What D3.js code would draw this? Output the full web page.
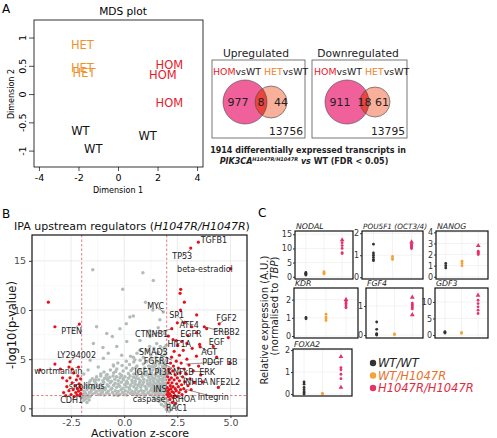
<!DOCTYPE html>
<html><head><meta charset="utf-8">
<script src="https://cdn.jsdelivr.net/npm/d3@7"></script>
<style>body{margin:0;background:#fff}svg{display:block}text{font-family:"DejaVu Sans",sans-serif}</style>
</head><body><svg id="c" width="497" height="438"></svg>
<script>
// ---------------- DATA ----------------
// Panel A: MDS
const mdsLabels = ["HET","HET","HET","HOM","HOM","HOM","WT","WT","WT"];
const mdsDim1 = [-1.8,-1.8,-1.72,2.6,2.27,2.6,-1.9,-1.25,1.5];
const mdsDim2 = [0.86,0.46,0.37,0.52,0.34,-0.15,-0.66,-0.98,-0.74];
const mdsXTicks = [-4,-2,0,2,4];
const mdsYTicks = [-1,-0.5,0,0.5,1];
// Venn
const vennTitles = ["Upregulated","Downregulated"];
const vennHomOnly = [977,911];
const vennBoth = [8,18];
const vennHetOnly = [44,61];
const vennNeither = [13756,13795];
// Panel B: volcano (activation z-score, -log10 p)
const grayPts = [
[-1.95,1.4],[-1.88,1.7],[-1.82,1.5],[-1.75,1.9],[-1.7,1.35],[-1.63,1.6],[-1.55,1.8],[-1.5,1.45],[-1.42,1.95],[-1.38,1.55],[-1.3,1.7],[-1.22,1.4],[-1.15,1.85],[-1.1,1.5],[-1.02,1.65],[-0.95,1.35],[-0.9,1.9],[-0.83,1.55],[-0.75,1.75],[-0.7,1.4],[-0.62,1.95],[-0.55,1.6],[-0.48,1.35],[-0.42,1.8],[-0.35,1.5],[-0.28,1.7],[-0.2,1.4],[-0.15,1.9],[-0.08,1.6],[0.0,1.45],[0.05,1.8],[0.12,1.35],[0.18,1.65],[0.25,1.95],[0.3,1.5],[0.37,1.75],[0.43,1.4],[0.5,1.6],[0.55,1.9],[0.62,1.45],[0.68,1.7],[0.75,1.35],[0.8,1.85],[0.87,1.55],[0.93,1.75],[1.0,1.4],[1.05,1.95],[1.12,1.6],[1.18,1.45],[1.23,1.8],[1.3,1.35],[1.35,1.65],[1.4,1.9],[1.45,1.5],[1.5,1.75],[1.55,1.4],[1.6,1.6],[1.65,1.85],[1.7,1.45],[1.75,1.7],[1.8,1.35],[1.85,1.95],[1.9,1.55],[1.95,1.8],[1.98,1.4],[1.92,1.65],[1.72,1.9],[1.58,1.3],[1.28,1.9],[0.95,1.3],[0.6,1.3],[-0.3,1.3],[-1.0,1.95],
[-1.9,2.1],[-1.8,2.4],[-1.72,2.2],[-1.65,2.6],[-1.57,2.05],[-1.48,2.35],[-1.4,2.15],[-1.33,2.55],[-1.25,2.3],[-1.18,2.0],[-1.1,2.45],[-1.03,2.2],[-0.96,2.65],[-0.88,2.1],[-0.8,2.4],[-0.73,2.25],[-0.66,2.6],[-0.58,2.05],[-0.5,2.35],[-0.43,2.55],[-0.36,2.15],[-0.28,2.45],[-0.21,2.25],[-0.14,2.65],[-0.06,2.05],[0.02,2.4],[0.09,2.2],[0.16,2.55],[0.23,2.1],[0.3,2.35],[0.38,2.6],[0.45,2.2],[0.52,2.45],[0.58,2.05],[0.65,2.3],[0.72,2.6],[0.78,2.15],[0.85,2.4],[0.91,2.65],[0.98,2.25],[1.04,2.05],[1.1,2.5],[1.16,2.3],[1.22,2.6],[1.28,2.1],[1.34,2.4],[1.4,2.2],[1.46,2.55],[1.52,2.05],[1.58,2.35],[1.63,2.65],[1.68,2.15],[1.73,2.45],[1.78,2.25],[1.83,2.6],[1.87,2.05],[1.91,2.35],[1.95,2.55],[1.98,2.15],[1.85,2.3],[1.66,2.5],[1.44,2.0],[1.2,2.4],[0.7,2.45],[0.1,2.6],
[-1.6,2.8],[-1.5,3.0],[-1.4,2.75],[-1.3,3.2],[-1.2,2.9],[-1.1,3.3],[-1.0,2.8],[-0.92,3.05],[-0.84,3.35],[-0.76,2.85],[-0.68,3.15],[-0.6,2.75],[-0.52,3.3],[-0.44,2.95],[-0.36,3.2],[-0.28,2.8],[-0.2,3.1],[-0.12,3.35],[-0.04,2.9],[0.04,3.2],[0.12,2.75],[0.2,3.05],[0.28,3.3],[0.36,2.85],[0.44,3.15],[0.52,2.75],[0.6,3.35],[0.68,3.0],[0.76,2.8],[0.84,3.25],[0.92,2.95],[1.0,3.4],[1.08,2.8],[1.15,3.15],[1.22,2.9],[1.3,3.3],[1.37,2.75],[1.44,3.05],[1.5,3.35],[1.56,2.85],[1.62,3.2],[1.68,2.95],[1.74,3.35],[1.79,2.8],[1.84,3.1],[1.89,3.4],[1.93,2.9],[1.97,3.2],[1.8,3.0],[1.6,2.72],[1.35,3.05],[0.55,3.05],[-0.05,3.0],[-0.8,3.0],[-1.35,2.9],
[-1.1,3.5],[-0.95,3.7],[-0.8,3.45],[-0.65,3.9],[-0.5,3.6],[-0.35,4.0],[-0.2,3.5],[-0.05,3.8],[0.1,4.1],[0.2,3.55],[0.32,3.85],[0.45,3.5],[0.55,4.15],[0.65,3.7],[0.75,3.95],[0.85,3.5],[0.95,4.1],[1.05,3.75],[1.12,3.45],[1.2,4.0],[1.28,3.6],[1.35,3.9],[1.42,4.2],[1.5,3.55],[1.57,3.85],[1.63,4.1],[1.7,3.5],[1.76,3.8],[1.82,4.15],[1.87,3.6],[1.92,3.95],[1.96,3.45],[1.6,3.65],[1.0,3.6],[0.4,4.05],[-0.4,3.75],[1.45,3.45],[1.9,4.2],
[-0.5,4.3],[-0.3,4.6],[-0.1,4.35],[0.1,4.8],[0.25,4.45],[0.45,4.7],[0.6,4.3],[0.75,4.9],[0.9,4.5],[1.05,4.75],[1.15,4.3],[1.28,4.95],[1.38,4.55],[1.48,4.35],[1.55,4.8],[1.65,4.5],[1.72,4.95],[1.8,4.3],[1.86,4.7],[1.93,4.45],[1.98,4.9],[1.3,4.25],[0.5,4.95],
[0.3,5.3],[0.6,5.6],[0.9,5.2],[1.1,5.9],[1.25,5.4],[1.4,6.1],[1.5,5.2],[1.6,5.7],[1.7,6.3],[1.78,5.3],[1.85,5.9],[1.92,5.5],[1.97,6.4],[1.88,6.2],[1.2,6.3],[0.74,5.9],
[-1.48,14.1],[0.88,13.8],[1.37,13.0],[-0.07,12.1],[0.43,9.4],[1.68,9.0],[0.27,9.3],[-1.3,8.3],[-0.82,7.6],[-0.2,8.1],[1.2,7.9],[-1.45,6.6],[-0.35,6.3],[0.12,6.8],[0.74,6.9],[1.21,7.3],[1.53,6.6],[-0.75,5.6],[-0.12,5.4],[-0.98,5.1],[0.43,5.2],[-1.22,4.2],[-0.51,4.4],[-1.6,4.9],[-0.56,7.3],[1.84,9.8],[1.0,10.8],[0.1,8.6],[-1.0,6.2],[1.9,7.6],[1.6,8.2],[1.35,10.0],[-1.9,3.5],[-1.7,3.9],
[-1.95,1.1],[-1.9,0.8],[-1.85,1.2],[-1.8,0.95],[-1.75,0.6],[-1.7,1.15],[-1.65,0.85],[-1.6,1.2],[1.4,1.1],[1.5,0.9],[1.6,1.2],[1.65,0.7],[1.7,1.0],[1.75,0.4],[1.8,0.85],[1.85,1.15],[1.88,0.2],[1.92,0.6],[1.95,1.0],[1.98,-0.1],[2.0,0.4],[2.05,0.8],[2.08,0.1],[2.12,-0.3],[2.15,0.5],[2.18,1.1],[2.2,0.0]
];
const redPts = [
[3.49,16.9],[3.13,16.3],[5.01,14.2],[-3.57,10.8],[-3.26,8.3],[-2.11,8.57],[-3.96,3.92],[-3.26,4.5],[-2.55,4.74],
[-2.85,1.6],[-2.75,1.3],[-2.7,2.2],[-2.6,1.8],[-2.55,3.1],[-2.5,1.4],[-2.45,2.6],[-2.4,1.9],[-2.38,3.6],[-2.35,1.2],[-2.3,2.3],[-2.28,1.6],[-2.25,2.9],[-2.22,1.36],[-2.2,2.0],[-2.18,3.3],[-2.15,1.75],[-2.12,2.5],[-2.1,1.3],[-2.08,2.2],[-2.05,1.5],[-2.05,3.0],[-2.03,1.9],[-2.6,4.2],[-2.9,3.1],[-3.0,4.0],[-2.45,4.0],[-2.15,4.2],[-2.7,2.8],
[2.02,1.4],[2.03,2.1],[2.05,1.7],[2.05,3.2],[2.07,2.6],[2.08,1.2],[2.1,4.0],[2.1,1.9],[2.12,2.9],[2.13,1.5],[2.15,3.6],[2.15,0.9],[2.17,2.3],[2.18,4.6],[2.2,1.3],[2.2,2.0],[2.22,3.1],[2.23,5.2],[2.25,1.7],[2.25,2.6],[2.27,0.6],[2.28,3.8],[2.3,1.1],[2.3,2.2],[2.32,4.3],[2.33,1.6],[2.35,2.9],[2.35,5.8],[2.38,1.3],[2.4,3.4],[2.4,2.0],[2.42,0.5],[2.45,4.8],[2.45,1.8],[2.47,2.5],[2.5,3.1],[2.5,1.2],[2.52,6.4],[2.55,2.2],[2.55,4.1],[2.58,1.6],[2.6,2.8],[2.6,5.4],[2.63,3.6],[2.65,1.9],[2.68,4.6],[2.7,2.4],[2.72,1.4],[2.75,3.2],[2.78,5.9],[2.8,2.0],[2.82,4.0],[2.85,2.7],[2.9,1.7],[2.92,3.5],[2.95,5.0],[3.0,2.3],[3.05,4.4],[3.1,3.0],[3.15,1.9],[3.2,6.1],[3.25,3.8],[3.3,2.6],[3.4,5.3],[3.5,4.3],[3.6,3.4],[3.7,2.7],[3.55,6.5],
[2.3,7.0],[2.08,7.35],[2.45,6.9],[2.7,6.8],[2.95,6.6],[3.0,7.4],[2.24,8.1],[2.5,8.7],[2.83,8.7],[3.18,8.3],[3.4,7.7],[3.88,8.1],[2.65,10.0],[2.63,11.7],[2.83,10.8],[3.41,9.5],[3.77,8.3],[4.47,8.6],[4.9,7.2],[4.19,6.3],[3.57,6.26],[4.35,5.2],[4.98,4.6],[4.43,2.13],[2.66,12.1]
];
// annotation: [text, label z, label y, leader-to z, leader-to y]
const volcanoLabels = [
["TGFB1",4.22,17.15,null,null],["TP53",2.73,15.45,3.1,16.1],["beta-estradiol",3.8,14.15,null,null],
["MYC",1.48,10.4,1.84,9.8],["SP1",2.47,9.5,2.83,8.7],["ATF4",3.06,8.5,2.83,8.9],["FGF2",4.82,9.15,4.47,8.6],
["EGFR",3.14,7.5,null,null],["CTNNB1",1.29,7.5,2.24,8.1],["ERBB2",4.82,7.7,3.77,8.3],["EGF",4.35,6.7,null,null],
["HIF1A",2.59,6.5,null,null],["AGT",4.0,5.75,3.57,6.26],["SMAD3",1.37,5.75,2.25,4.9],["PDGF BB",4.5,4.7,2.9,4.5],
["FGFR1",1.53,4.84,2.25,4.1],["IGF1",0.9,3.72,null,null],["PI3K",1.84,3.72,null,null],["NFkB",2.78,3.72,null,null],
["ERK",3.9,3.72,3.3,3.75],["INHBA",3.36,2.7,2.6,3.3],["NFE2L2",4.74,2.7,4.43,2.13],["INS",1.68,1.93,null,null],
["Integrin",4.19,1.18,2.78,2.0],["caspase",1.17,0.95,null,null],["RHOA",2.81,0.95,2.5,1.4],["RAC1",2.47,0.0,2.3,1.0],
["PTEN",-2.47,7.8,-2.11,8.57],["LY294002",-2.24,5.42,-2.55,4.74],["wortmannin",-3.1,3.79,null,null],
["sirolimus",-1.76,2.27,null,null],["CDH1",-2.47,0.84,-2.22,1.36]
];
const volcanoXTicks = [-2.5,0,2.5,5];
const volcanoYTicks = [0,5,10,15];
const zThresholds = [-2,2];
const pThreshold = 1.3;
// Panel C: qPCR
const cGenes = ["NODAL","POU5F1 (OCT3/4)","NANOG","KDR","FGF4","GDF3","FOXA2"];
const genotypes = ["WT/WT","WT/H1047R","H1047R/H1047R"];
const cTicks = [[0,5,10,15],[0,1,2],[0,1,2,3,4],[0,1,2],[0,1],[0,5,10],[0,1,2]];
const cWT = [[1.5,1.2,1.0,0.8,0.6],[1.5,1.1,1.0,0.9,0.8,0.75],[1.2,1.0,0.8],[1.02,0.95],[0.45,0.2,0.05,0.02,0],[1.0,0.8,0.6],[0.55,0.45,0.3,0.2,0.1,0.05,0]];
const cHET = [[1.8,1.4,1.1,1.0],[0.95,0.85,0.8],[1.4,1.2,1.0],[1.2,1.05,0.95,0.85],[0.04,0.01],[0.8,0.5],[0.03,0]];
const cHOM = [[13,12,11,10,8.5,8.2],[1.6,1.5,1.45,1.4,1.35,1.3],[2.8,2.3,2.2,2.1,2.0],[2.0,1.9,1.8,1.7,1.6,1.55],[1.3,1.1,1.05,1.0,0.95,0.9,0.7],[12,10.5,9.5,8.5,7.5,6.5],[1.7,1.2,1.1,0.9,0.7,0.3]];
const cHOMtriangle = [[1,0,0,0,0,0],[1,0,0,0,0,0],[1,0,0,0,0],[1,0,0,0,0,0],[1,0,0,0,0,0,1],[1,0,0,0,0,0],[1,0,0,0,0,1]];

// ---------------- DRAW ----------------
const svg = d3.select("#c");
svg.append("rect").attr("width",497).attr("height",438).attr("fill","#fff");

function txt(g,x,y,s,opt={}){
  const t=g.append("text").attr("x",x).attr("y",y).text(s)
   .attr("font-size",opt.size||10).attr("fill",opt.fill||"#000")
   .attr("text-anchor",opt.anchor||"start");
  if(opt.weight) t.attr("font-weight",opt.weight);
  if(opt.italic) t.attr("font-style","italic");
  if(opt.family) t.attr("font-family",opt.family);
  if(opt.rotate!=null) t.attr("transform",`rotate(${opt.rotate},${x},${y})`);
  return t;
}
// panel letters
txt(svg,2,13,"A",{size:12});
txt(svg,2,218,"B",{size:12});
txt(svg,258,217,"C",{size:12});

// ---- Panel A MDS ----
(function(){
  const g=svg.append("g");
  const x=d3.scaleLinear().domain([-4.25,4.30]).range([34,203]);
  const y=d3.scaleLinear().domain([-1.29,1.31]).range([167,20]);
  g.append("rect").attr("x",34).attr("y",20).attr("width",169).attr("height",147).attr("fill","none").attr("stroke","#000").attr("stroke-width",0.8);
  const ax=g.append("g").attr("transform","translate(0,167)").call(d3.axisBottom(x).tickValues(mdsXTicks).tickSize(4).tickFormat(d=>String(d)));
  ax.select(".domain").remove();
  ax.selectAll("line").attr("stroke","#000").attr("stroke-width",0.7);
  ax.selectAll("text").attr("font-size",9.5).attr("font-family","DejaVu Sans").attr("fill","#000").attr("y",7);
  const ay=g.append("g").attr("transform","translate(34,0)").call(d3.axisLeft(y).tickValues(mdsYTicks).tickSize(5).tickFormat(d=>String(d)));
  ay.select(".domain").remove();
  ay.selectAll("line").attr("stroke","#000").attr("stroke-width",0.7);
  ay.selectAll("text").attr("font-size",9.5).attr("font-family","DejaVu Sans").attr("fill","#000")
    .attr("x",0).attr("dy","0.35em").attr("text-anchor","middle").attr("transform","translate(-11,0) rotate(-90)");
  txt(g,123,15,"MDS plot",{size:10.6,anchor:"middle"});
  txt(g,118,193,"Dimension 1",{size:8,anchor:"middle"});
  txt(g,14,94,"Dimension 2",{size:8,anchor:"middle",rotate:-90});
  const col={HET:"#f0912a",HOM:"#e8192c",WT:"#111"};
  mdsLabels.forEach((l,i)=>{
    txt(g,x(mdsDim1[i]),y(mdsDim2[i])+4,l,{size:11.5,anchor:"middle",fill:col[l]});
  });
})();

// ---- Venn ----
(function(){
  const boxes=[[212,60,93,78],[312,60,95,78]];
  const circ=[[[245,102,22],[271,102,16]],[[347,102,22],[375,102,15]]];
  const titleX=[256,358];
  const labStart=[[213,264],[314,365]];
  const numX=[[238,261,281],[340,364.5,382]];
  const defs=svg.append("defs");
  vennTitles.forEach((t,i)=>{
    const g=svg.append("g");
    txt(g,titleX[i],57,t,{size:10.7,anchor:"middle",fill:"#222"});
    const b=boxes[i];
    g.append("rect").attr("x",b[0]).attr("y",b[1]).attr("width",b[2]).attr("height",b[3]).attr("fill","none").attr("stroke","#555").attr("stroke-width",0.8);
    const [c1,c2]=circ[i];
    defs.append("clipPath").attr("id","vc"+i).append("circle").attr("cx",c1[0]).attr("cy",c1[1]).attr("r",c1[2]);
    g.append("circle").attr("cx",c1[0]).attr("cy",c1[1]).attr("r",c1[2]).attr("fill","#f0609a");
    g.append("circle").attr("cx",c2[0]).attr("cy",c2[1]).attr("r",c2[2]).attr("fill","#f8b09a");
    g.append("circle").attr("cx",c2[0]).attr("cy",c2[1]).attr("r",c2[2]).attr("fill","#e9443f").attr("clip-path",`url(#vc${i})`);
    g.append("circle").attr("cx",c1[0]).attr("cy",c1[1]).attr("r",c1[2]).attr("fill","none").attr("stroke","#444").attr("stroke-width",0.6);
    g.append("circle").attr("cx",c2[0]).attr("cy",c2[1]).attr("r",c2[2]).attr("fill","none").attr("stroke","#444").attr("stroke-width",0.6);
    const t1=g.append("text").attr("x",labStart[i][0]).attr("y",75).attr("font-size",9.4);
    t1.append("tspan").attr("fill","#e8192c").text("HOM"); t1.append("tspan").attr("fill","#222").text("vsWT");
    const t2=g.append("text").attr("x",labStart[i][1]).attr("y",75).attr("font-size",9.4);
    t2.append("tspan").attr("fill","#f0842a").text("HET"); t2.append("tspan").attr("fill","#222").text("vsWT");
    [vennHomOnly[i],vennBoth[i],vennHetOnly[i]].forEach((v,j)=>txt(g,numX[i][j],106,String(v),{size:11,anchor:"middle",fill:"#222"}));
    txt(g,b[0]+b[2]-2,135,String(vennNeither[i]),{size:10.7,anchor:"end",fill:"#222"});
  });
  const c=svg.append("g");
  txt(c,308,153,"1914 differentially expressed transcripts in",{size:8,anchor:"middle",weight:"bold",family:"Liberation Sans",fill:"#222"});
  const t=c.append("text").attr("x",304).attr("y",164).attr("text-anchor","middle").attr("font-size",8).attr("font-weight","bold").attr("font-family","Liberation Sans").attr("fill","#222");
  t.append("tspan").attr("font-style","italic").text("PIK3CA");
  t.append("tspan").attr("font-style","italic").attr("font-size",5).attr("dy",-3).text("H1047R/H1047R");
  t.append("tspan").attr("dy",3).attr("font-style","italic").text(" vs");
  t.append("tspan").text(" WT (FDR < 0.05)");
})();

// ---- Panel B volcano ----
(function(){
  const g=svg.append("g");
  const L=32,R=247,T=235,B=416;
  const x=d3.scaleLinear().domain([-4.339,5.779]).range([L,R]);
  const y=d3.scaleLinear().domain([-0.78,17.63]).range([B,T]);
  const title=g.append("text").attr("x",14).attr("y",230).attr("font-size",11).attr("fill","#111");
  title.append("tspan").text("IPA upstream regulators (");
  title.append("tspan").attr("font-style","italic").text("H1047R/H1047R");
  title.append("tspan").text(")");
  // grid
  const minorX=[-3.75,-1.25,1.25,3.75], minorY=[2.5,7.5,12.5];
  g.selectAll(".gmx").data(minorX).join("line").attr("x1",d=>x(d)).attr("x2",d=>x(d)).attr("y1",T).attr("y2",B).attr("stroke","#f2f2f2").attr("stroke-width",0.5);
  g.selectAll(".gmy").data(minorY).join("line").attr("y1",d=>y(d)).attr("y2",d=>y(d)).attr("x1",L).attr("x2",R).attr("stroke","#f2f2f2").attr("stroke-width",0.5);
  g.selectAll(".gx").data(volcanoXTicks).join("line").attr("x1",d=>x(d)).attr("x2",d=>x(d)).attr("y1",T).attr("y2",B).attr("stroke","#e6e6e6").attr("stroke-width",0.8);
  g.selectAll(".gy").data(volcanoYTicks).join("line").attr("y1",d=>y(d)).attr("y2",d=>y(d)).attr("x1",L).attr("x2",R).attr("stroke","#e6e6e6").attr("stroke-width",0.8);
  // points
  g.selectAll(".gp").data(grayPts).join("circle").attr("cx",d=>x(d[0])).attr("cy",d=>y(d[1])).attr("r",1.75).attr("fill","#b2bdb9");
  // thresholds
  g.selectAll(".vz").data(zThresholds).join("line").attr("x1",d=>x(d)).attr("x2",d=>x(d)).attr("y1",T).attr("y2",B).attr("stroke","#d9434f").attr("stroke-width",0.7).attr("stroke-dasharray","2.5,2");
  g.append("line").attr("x1",L).attr("x2",R).attr("y1",y(pThreshold)).attr("y2",y(pThreshold)).attr("stroke","#d9434f").attr("stroke-width",0.7).attr("stroke-dasharray","2.5,2");
  g.selectAll(".rp").data(redPts).join("circle").attr("cx",d=>x(d[0])).attr("cy",d=>y(d[1])).attr("r",1.6).attr("fill","#e5121c");
  // labels
  volcanoLabels.forEach(([s,lx,ly,px,py])=>{
    if(px!=null){
      g.append("line").attr("x1",x(lx)).attr("y1",y(ly)).attr("x2",x(px)).attr("y2",y(py)).attr("stroke","#444").attr("stroke-width",0.6);
    }
  });
  volcanoLabels.forEach(([s,lx,ly])=>{
    txt(g,x(lx),y(ly)+2.8,s,{size:8,anchor:"middle",fill:"#222"});
  });
  // border
  g.append("rect").attr("x",L).attr("y",T).attr("width",R-L).attr("height",B-T).attr("fill","none").attr("stroke","#111").attr("stroke-width",1.2);
  const ax=g.append("g").attr("transform",`translate(0,${B})`).call(d3.axisBottom(x).tickValues(volcanoXTicks).tickSize(2).tickFormat(d=>d.toFixed(1)));
  ax.select(".domain").remove();
  ax.selectAll("line").attr("stroke","#333");
  ax.selectAll("text").attr("font-size",9.5).attr("font-family","DejaVu Sans").attr("fill","#4d4d4d").attr("y",3);
  const ay=g.append("g").attr("transform",`translate(${L},0)`).call(d3.axisLeft(y).tickValues(volcanoYTicks).tickSize(3).tickFormat(d=>String(d)));
  ay.select(".domain").remove();
  ay.selectAll("line").attr("stroke","#333");
  ay.selectAll("text").attr("font-size",9.5).attr("font-family","DejaVu Sans").attr("fill","#4d4d4d");
  txt(g,140,436.5,"Activation z-score",{size:11,anchor:"middle",fill:"#111"});
  txt(g,16,325,"-log10(p-value)",{size:11.5,anchor:"middle",fill:"#111",rotate:-90});
})();

// ---- Panel C ----
(function(){
  const g=svg.append("g");
  const boxes=[[295,231,353,279],[362,231,423,279],[436,231,488,279],[294,288,358,338],[366,288,423,338],[435,288,488,338],[293,349,352,396]];
  const domains=[[-0.8,16.15],[-0.08,2.1],[-0.2,4.12],[-0.11,2.64],[-0.1,1.62],[-0.9,14.2],[-0.09,2.05]];
  const gcol=["#333333","#f5a236","#e63268"];
  cGenes.forEach((gene,i)=>{
    const [l,t,r,b]=boxes[i];
    const x=d3.scaleLinear().domain([0.4,3.6]).range([l,r]);
    const y=d3.scaleLinear().domain(domains[i]).range([b,t]);
    const p=g.append("g");
    p.selectAll(".gx").data([1,2,3]).join("line").attr("x1",d=>x(d)).attr("x2",d=>x(d)).attr("y1",t).attr("y2",b).attr("stroke","#ebebeb").attr("stroke-width",0.6);
    p.selectAll(".gy").data(cTicks[i]).join("line").attr("y1",d=>y(d)).attr("y2",d=>y(d)).attr("x1",l).attr("x2",r).attr("stroke","#ebebeb").attr("stroke-width",0.6);
    [cWT[i],cHET[i]].forEach((vals,k)=>{
      p.selectAll(".p"+k).data(vals).join("circle").attr("cx",x(k+1)).attr("cy",d=>y(d)).attr("r",1.4).attr("fill",gcol[k]);
    });
    cHOM[i].forEach((v,j)=>{
      if(cHOMtriangle[i][j]){
        p.append("path").attr("d",d3.symbol(d3.symbolTriangle,10)()).attr("transform",`translate(${x(3)},${y(v)})`).attr("fill",gcol[2]);
      } else {
        p.append("circle").attr("cx",x(3)).attr("cy",y(v)).attr("r",1.4).attr("fill",gcol[2]);
      }
    });
    p.append("rect").attr("x",l).attr("y",t).attr("width",r-l).attr("height",b-t).attr("fill","none").attr("stroke","#111").attr("stroke-width",1.2);
    const ay=p.append("g").attr("transform",`translate(${l},0)`).call(d3.axisLeft(y).tickValues(cTicks[i]).tickSize(2).tickFormat(d=>String(d)));
    ay.select(".domain").remove();
    ay.selectAll("line").attr("stroke","#333");
    ay.selectAll("text").attr("font-size",8).attr("font-family","DejaVu Sans").attr("fill","#333").attr("x",-3);
    txt(p,l+1,t-2.5,gene,{size:gene.length>10?7.3:7.8,italic:true,fill:"#222"});
  });
  // y title
  txt(g,268,320,"Relative expression (A.U.)",{size:10,anchor:"middle",fill:"#222",rotate:-90});
  const t2=g.append("text").attr("x",278).attr("y",306).attr("text-anchor","middle").attr("font-size",10).attr("fill","#222").attr("transform","rotate(-90,278,306)");
  t2.append("tspan").text("(normalised to ");
  t2.append("tspan").attr("font-style","italic").text("TBP");
  t2.append("tspan").text(")");
  // legend
  const lcol=["#222222","#e8712a","#e02a3c"];
  genotypes.forEach((s,i)=>{
    const yy=363+i*12.5;
    g.append("circle").attr("cx",373).attr("cy",yy).attr("r",3.2).attr("fill",gcol[i]);
    txt(g,378,yy+4.2,s,{size:11.5,italic:true,fill:lcol[i]});
  });
})();
</script></body></html>
